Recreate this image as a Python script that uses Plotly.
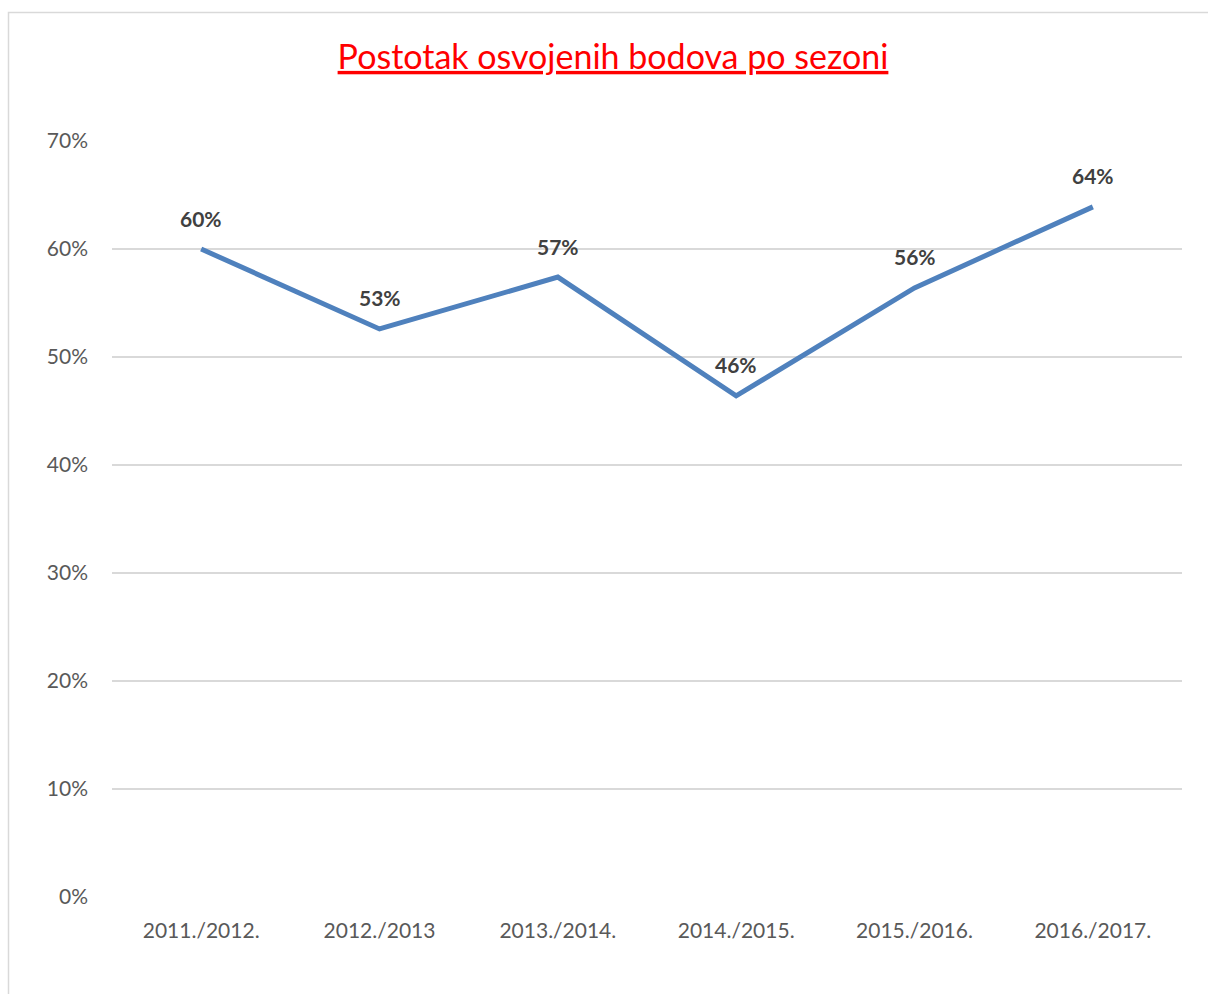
import plotly.graph_objects as go

seasons = ["2011./2012.", "2012./2013", "2013./2014.", "2014./2015.", "2015./2016.", "2016./2017."]
points_pct = [0.600, 0.526, 0.574, 0.464, 0.564, 0.639]
y_ticks = [0, 0.1, 0.2, 0.3, 0.4, 0.5, 0.6, 0.7]
y_tick_labels = ["0%", "10%", "20%", "30%", "40%", "50%", "60%", "70%"]
title_text = "Postotak osvojenih bodova po sezoni"

W, H = 1208, 994
L, R, T, B = 112, 26, 141, 97
pw, ph = W - L - R, H - T - B

fig = go.Figure()
fig.add_trace(go.Scatter(
    x=seasons, y=points_pct, mode="lines",
    line=dict(color="#4f81bd", width=5),
    hoverinfo="skip", showlegend=False,
))

for s, v in zip(seasons, points_pct):
    fig.add_annotation(
        x=s, y=v, text="<b>%d%%</b>" % round(v * 100),
        showarrow=False, yshift=31, yanchor="middle",
        font=dict(family="Lato, sans-serif", size=21, color="#404040"),
    )

# chart border (Excel chart area)
fig.add_shape(type="rect", xref="paper", yref="paper",
              x0=(8.5 - L) / pw, x1=(W + 20 - L) / pw,
              y0=(T + ph - (H + 20)) / ph, y1=(T + ph - 12.5) / ph,
              line=dict(color="#d9d9d9", width=1.5), layer="below")

fig.update_layout(
    width=W, height=H,
    margin=dict(l=L, r=R, t=T, b=B, autoexpand=False),
    paper_bgcolor="white", plot_bgcolor="white",
    title=dict(text="<u>" + title_text + "</u>", x=613 / W, xanchor="center",
               y=1 - 57 / H, yanchor="middle",
               font=dict(family="Lato, sans-serif", size=34, color="#ff0000")),
    xaxis=dict(
        range=[-0.5, len(seasons) - 0.5],
        showgrid=False, showline=False, zeroline=False, ticks="",
        tickfont=dict(family="Lato, sans-serif", size=21, color="#595959"),
        ticklabelstandoff=19, automargin=False,
    ),
    yaxis=dict(
        range=[0, 0.7], tickvals=y_ticks, ticktext=y_tick_labels,
        showgrid=True, gridcolor="#d9d9d9", gridwidth=1.5,
        zeroline=False, showline=False, ticks="",
        tickfont=dict(family="Lato, sans-serif", size=21, color="#595959"),
        ticklabelstandoff=23, automargin=False,
    ),
)

fig.write_html("out.html")
